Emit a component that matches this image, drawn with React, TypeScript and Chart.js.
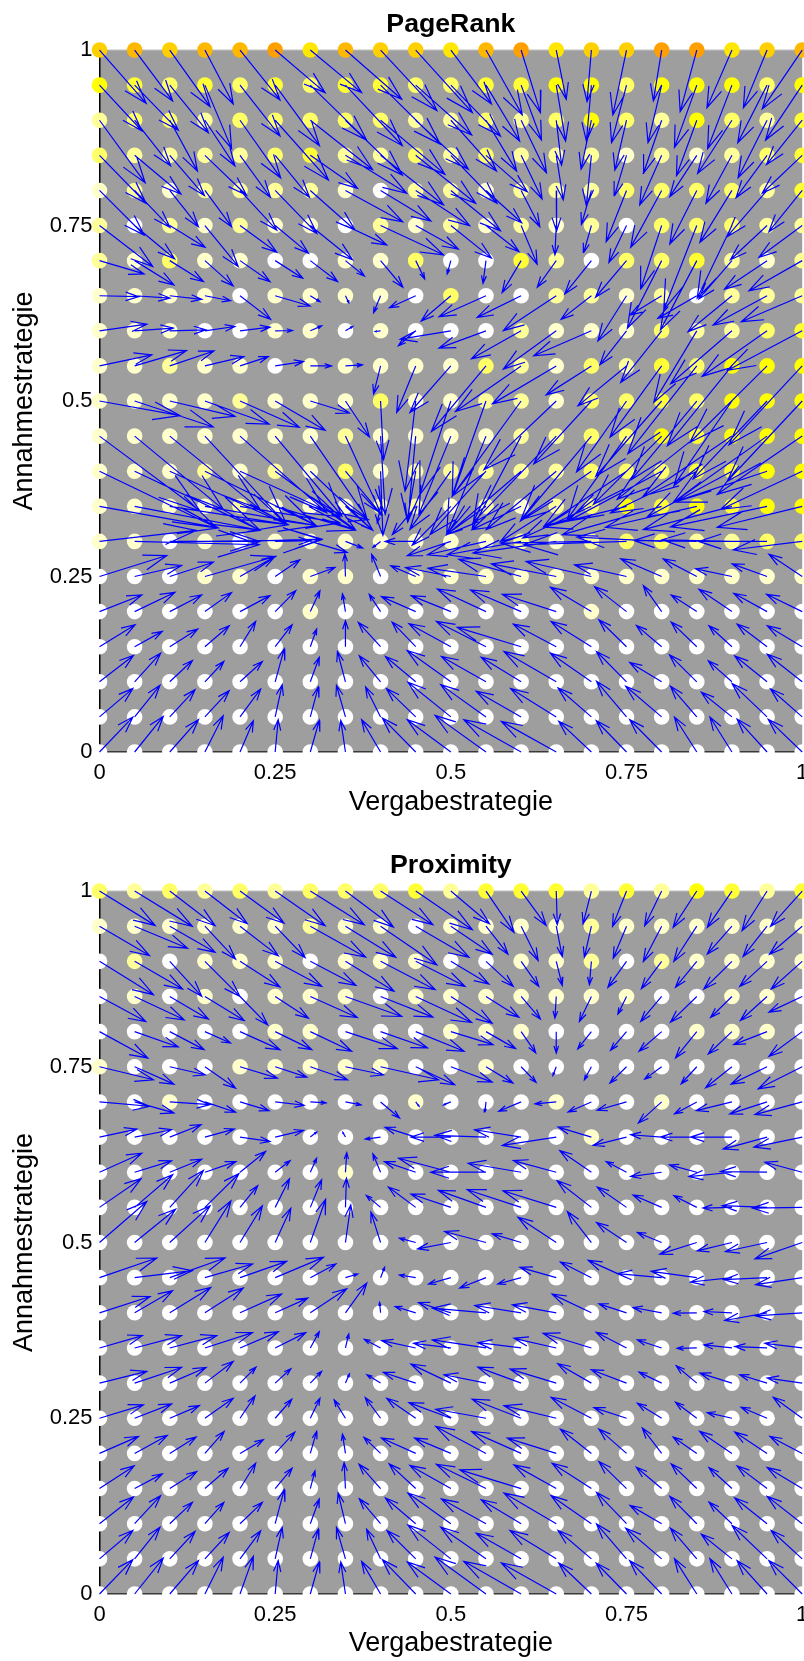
import React, { useEffect, useRef } from "react";
import { Chart, registerables } from "chart.js";

Chart.register(...registerables);

const gridValues = [0, 0.05, 0.1, 0.15, 0.2, 0.25, 0.3, 0.35, 0.4, 0.45, 0.5, 0.55, 0.6, 0.65, 0.7, 0.75, 0.8, 0.85, 0.9, 0.95, 1];
const tickValues = [0, 0.25, 0.5, 0.75, 1];
const xTitle = "Vergabestrategie";
const yTitle = "Annahmestrategie";
const QUIVER_UNIT = 1 / 2109;

// one row per Annahmestrategie value, from 1 down to 0; one column per Vergabestrategie value
const pageRankU = [
  [140,114,121,85,120,150,154,169,169,170,122,109,58,30,-13,-41,-25,-50,-75,-71,-120],
  [127,131,116,80,120,133,169,171,179,168,149,101,61,28,-15,-45,-41,-67,-73,-88,-110],
  [137,108,83,90,122,160,187,171,193,158,137,92,76,16,-31,-35,-55,-61,-103,-87,-107],
  [140,139,104,125,91,103,142,184,189,180,139,124,63,21,-15,-36,-66,-81,-78,-93,-120],
  [134,106,86,80,110,125,134,172,151,162,149,107,56,1,-30,-61,-93,-81,-96,-120,-100],
  [160,120,106,100,110,100,127,124,189,128,122,99,48,-4,-23,-53,-63,-99,-104,-110,-130],
  [134,118,101,85,90,83,82,57,67,27,-11,-9,-57,-57,-80,-93,-103,-109,-99,-128,-160],
  [117,106,96,77,92,105,29,10,-21,-79,-89,-141,-132,-159,-91,-86,-95,-117,-132,-162,-183],
  [142,116,108,90,90,52,34,22,-16,-52,-152,-141,-149,-159,-173,-80,-123,-129,-184,-195,-225],
  [157,156,133,117,85,85,64,51,-21,-57,-123,-164,-197,-192,-136,-146,-155,-207,-194,-232,-220],
  [242,236,196,193,178,150,117,72,9,-32,-93,-101,-207,-217,-173,-150,-198,-196,-174,-222,-225],
  [302,266,271,245,260,200,169,110,14,-24,-96,-118,-147,-250,-213,-178,-205,-239,-266,-282,-255],
  [352,376,351,333,300,240,187,104,7,-25,-123,-168,-222,-210,-210,-248,-281,-259,-254,-280,-245],
  [357,376,356,335,300,240,174,82,-10,-70,-116,-118,-147,-167,-206,-248,-298,-274,-266,-290,-255],
  [290,374,270,350,245,105,111,52,-23,-92,-131,-176,-222,-250,-273,-308,-255,-189,-209,-205,-207],
  [202,141,131,212,105,74,74,-2,-27,-75,-136,-174,-187,-195,-196,-156,-123,-101,-109,-105,-100],
  [127,121,96,80,90,62,29,-9,-34,-103,-119,-146,-152,-162,-123,-96,-55,-77,-99,-100,-107],
  [107,83,84,73,47,51,19,0,-67,-71,-126,-149,-192,-129,-121,-83,-76,-77,-69,-90,-105],
  [102,78,68,57,67,27,27,-24,-64,-91,-131,-134,-120,-157,-123,-90,-96,-82,-71,-97,-105],
  [100,76,76,73,62,21,24,-27,-45,-88,-129,-136,-135,-137,-100,-90,-108,-79,-92,-105,-95],
  [100,86,86,55,40,9,27,-14,-57,-100,-131,-153,-172,-165,-98,-91,-96,-67,-66,-90,-102],
];
const pageRankDrop = [
  [160,153,170,162,150,128,128,148,182,188,162,195,188,148,155,195,153,185,173,173,177],
  [137,135,143,190,153,182,165,182,177,150,153,168,165,168,168,173,173,187,191,173,165],
  [188,137,153,137,173,180,148,165,162,147,153,153,158,135,147,150,160,167,160,173,133],
  [144,116,121,120,126,126,99,114,149,144,144,109,131,134,152,121,149,124,144,127,114],
  [134,111,109,109,119,129,119,94,92,106,121,97,109,122,102,154,171,161,156,139,124],
  [123,100,65,123,80,83,103,58,88,71,98,78,116,88,81,111,191,253,218,103,96],
  [40,73,63,76,63,53,63,46,80,55,40,68,96,80,100,110,203,208,115,86,91],
  [3,7,11,15,71,31,18,21,51,36,76,63,65,105,71,136,58,68,108,88,78],
  [-20,-8,-3,-13,-11,-1,-15,-13,2,45,25,52,84,115,75,102,155,215,159,137,119],
  [-33,-46,-45,-28,-28,-13,0,-3,84,140,140,197,137,114,87,120,214,264,240,230,237],
  [44,78,46,69,79,88,36,108,176,271,281,286,286,206,189,213,226,236,254,234,241],
  [225,220,220,265,230,240,245,240,235,258,235,295,280,260,255,250,205,190,180,200,175],
  [170,177,160,163,137,175,177,125,193,145,175,190,190,175,145,165,150,125,137,93,115],
  [65,72,55,58,50,72,40,72,50,85,117,85,70,105,95,62,85,63,70,62,63],
  [-33,10,0,-5,-7,-2,33,20,18,0,43,40,40,35,5,10,-13,-3,-5,0,25],
  [-63,-33,-43,-60,-60,-50,-27,-68,-67,-32,-27,-25,-52,-38,-45,-35,-53,-53,-23,-38,-67],
  [-50,-58,-50,-57,-48,-63,-63,-53,-52,-45,-48,-68,-65,-52,-73,-75,-78,-50,-67,-55,-52],
  [-66,-46,-53,-63,-76,-66,-53,-78,-73,-74,-69,-76,-58,-68,-76,-81,-64,-74,-63,-68,-63],
  [-79,-86,-64,-61,-61,-99,-74,-91,-78,-76,-94,-76,-74,-91,-86,-91,-58,-81,-63,-78,-83],
  [-85,-95,-82,-79,-84,-97,-90,-95,-90,-85,-104,-97,-77,-85,-87,-107,-92,-92,-74,-100,-84],
  [-105,-107,-97,-109,-94,-97,-95,-95,-97,-102,-97,-110,-97,-92,-92,-94,-97,-105,-105,-99,-98],
];
const pageRankShade = [
  [7,8,7,8,8,9,6,8,7,7,6,8,9,6,7,7,9,9,6,7,8],
  [5,4,3,4,3,4,3,4,4,3,3,4,4,5,5,3,5,5,5,3,5],
  [2,3,3,2,3,3,3,3,3,2,2,3,2,3,5,3,2,5,3,2,4],
  [3,2,2,2,2,3,4,2,2,3,2,3,2,2,2,1,2,1,2,3,4],
  [1,2,1,2,2,2,2,1,0,2,2,1,2,2,2,3,3,3,3,2,4],
  [2,0,2,1,2,1,1,0,2,1,2,1,2,1,2,0,3,3,3,2,2],
  [2,1,3,1,1,0,0,1,1,3,0,0,4,2,0,3,3,4,2,1,2],
  [1,1,1,1,0,1,1,1,1,0,3,0,0,2,2,1,2,0,2,2,2],
  [1,1,1,0,0,1,1,0,1,0,0,0,2,1,1,1,3,2,2,3,4],
  [1,1,2,1,1,0,1,1,1,1,1,3,2,1,3,2,4,3,5,5,5],
  [1,1,1,1,2,1,1,1,3,1,1,2,2,1,3,3,4,3,5,5,5],
  [1,1,1,1,1,1,1,2,1,1,1,1,2,2,3,3,5,4,5,5,5],
  [1,1,1,2,1,2,1,3,1,2,2,2,2,2,3,3,3,4,4,5,5],
  [1,1,1,1,2,1,1,1,2,2,1,2,1,2,3,5,4,5,4,5,5],
  [1,1,0,1,0,1,1,1,1,1,1,1,2,1,2,3,3,2,2,3,3],
  [0,0,0,1,1,0,1,1,0,1,1,1,1,1,1,1,1,1,1,1,1],
  [0,0,0,0,0,0,1,0,0,0,0,0,0,0,1,0,0,0,0,0,0],
  [0,0,0,0,0,0,0,0,0,0,0,0,0,0,0,0,0,0,0,0,0],
  [0,0,0,0,0,0,0,0,0,0,0,0,0,0,0,0,0,0,0,0,0],
  [0,0,0,0,0,0,0,0,0,0,0,0,0,0,0,0,0,0,0,0,0],
  [0,0,0,0,0,0,0,0,0,0,0,0,0,0,0,0,0,0,0,0,0],
];

const proximityU = [
  [167,173,136,127,132,150,162,144,157,170,116,84,75,3,-25,-42,-51,-71,-74,-75,-95],
  [150,159,136,92,115,90,166,151,169,160,124,66,51,18,-21,-40,-55,-69,-74,-72,-98],
  [162,144,96,105,120,140,137,146,164,148,114,82,53,18,-6,-56,-61,-64,-84,-82,-93],
  [139,149,116,118,83,100,141,169,157,168,124,99,58,-4,-36,-26,-63,-79,-64,-80,-100],
  [145,131,103,77,120,110,124,156,141,145,127,89,44,0,-41,-48,-68,-64,-71,-100,-100],
  [162,118,106,92,112,95,112,114,174,117,124,81,45,-10,-21,-50,-51,-47,-79,-108,-132],
  [150,118,121,92,87,87,47,47,57,10,-22,-3,-67,-64,-70,-88,-70,-67,-107,-112,-142],
  [112,111,94,88,90,85,19,-8,-46,-92,-120,-154,-140,-162,-100,-100,-93,-109,-124,-132,-145],
  [127,111,96,93,77,45,19,4,-23,-94,-157,-166,-159,-129,-95,-61,-93,-82,-129,-140,-112],
  [125,114,101,102,53,43,34,3,-43,-82,-120,-143,-162,-160,-103,-88,-86,-69,-87,-135,-150],
  [142,123,121,78,67,47,46,16,-29,-49,-100,-124,-87,-115,-72,-90,-73,-111,-104,-125,-142],
  [172,173,166,143,140,145,77,37,12,-49,-67,-79,-70,-109,-93,-115,-133,-137,-124,-130,-140],
  [152,114,123,115,125,98,109,64,-3,-62,-97,-161,-139,-132,-118,-83,-86,-71,-84,-127,-140],
  [129,141,141,143,115,92,27,10,-49,-102,-112,-161,-130,-127,-145,-91,-73,-59,-84,-97,-112],
  [142,141,109,85,48,47,34,12,-41,-97,-120,-126,-130,-139,-101,-106,-68,-62,-96,-82,-105],
  [132,111,89,85,45,50,29,-34,-46,-87,-126,-151,-147,-157,-121,-98,-73,-64,-74,-78,-87],
  [117,98,79,58,70,59,19,-9,-50,-103,-109,-151,-149,-147,-93,-83,-58,-71,-97,-97,-97],
  [104,83,81,70,47,51,14,-4,-65,-80,-123,-149,-184,-127,-118,-83,-76,-77,-69,-90,-105],
  [102,78,68,57,67,27,27,-22,-64,-91,-129,-134,-120,-157,-121,-90,-95,-81,-69,-97,-105],
  [100,76,76,73,62,21,24,-27,-42,-86,-129,-136,-135,-139,-100,-90,-108,-79,-92,-105,-93],
  [100,86,86,55,40,9,27,-14,-57,-100,-131,-153,-172,-165,-98,-91,-96,-67,-66,-90,-100],
];
const proximityDrop = [
  [103,106,104,98,96,104,101,108,101,116,98,124,103,101,98,106,104,109,109,119,106],
  [88,66,78,99,89,94,93,93,116,93,84,84,103,91,93,96,106,106,84,91,84],
  [100,83,105,105,77,75,72,90,85,75,68,75,75,72,70,78,82,78,83,75,83],
  [75,70,68,72,85,65,63,60,62,78,80,62,68,65,75,53,75,77,63,72,47],
  [79,46,54,34,54,54,59,51,49,59,39,51,64,64,52,56,59,79,67,39,74],
  [39,52,24,64,34,31,39,24,39,54,46,49,47,26,39,49,37,51,63,52,66],
  [13,33,8,31,26,10,3,9,48,13,9,30,28,6,30,25,63,36,26,36,38],
  [-24,-22,-37,-24,13,-20,-15,-14,6,-29,0,-5,-22,25,-30,25,-7,0,0,36,30],
  [-57,-34,-39,-32,-62,-35,-42,-59,-55,-32,-42,0,-27,-35,-65,-32,13,-22,13,-2,-30],
  [-86,-98,-111,-101,-65,-86,-83,-88,-36,-61,-40,-51,-53,-50,-80,-61,-37,-35,2,-5,2],
  [-123,-100,-110,-125,-110,-103,-130,-113,-91,-13,19,-33,-26,-76,-93,-60,-30,35,25,27,49],
  [-59,-21,-59,-41,-49,-61,-41,-11,-31,-8,19,31,19,-31,-47,-52,-12,-19,13,6,21],
  [-49,-66,-76,-74,-56,-44,-72,-89,-31,-19,-31,-14,-22,-24,-56,-27,-16,1,-4,23,9],
  [-37,-37,-37,-46,-49,-46,-49,-42,-26,-22,-14,-24,-16,-29,-44,-47,-24,1,-9,-4,-14],
  [-35,-47,-47,-65,-48,-43,-35,-27,-25,-32,-57,-25,-48,-42,-58,-40,-33,-52,-30,-25,-15],
  [-40,-43,-38,-60,-67,-57,-60,-55,-62,-60,-47,-27,-57,-38,-63,-32,-45,-48,-17,-33,-63],
  [-51,-54,-49,-66,-41,-64,-66,-58,-48,-46,-46,-81,-66,-46,-73,-73,-76,-49,-66,-64,-51],
  [-68,-44,-51,-61,-76,-61,-53,-78,-73,-74,-69,-73,-56,-71,-76,-81,-64,-74,-63,-68,-63],
  [-80,-84,-64,-64,-64,-102,-74,-92,-75,-77,-92,-74,-72,-92,-84,-94,-55,-82,-65,-77,-82],
  [-85,-95,-82,-79,-84,-95,-89,-94,-89,-85,-102,-95,-77,-85,-85,-105,-92,-92,-74,-100,-85],
  [-103,-108,-100,-110,-113,-100,-96,-96,-98,-103,-96,-111,-98,-93,-93,-93,-100,-106,-106,-100,-100],
];
const proximityShade = [
  [3,2,3,2,3,2,3,3,3,4,2,4,4,4,2,4,2,5,4,2,4],
  [1,1,1,1,1,1,2,1,1,0,1,1,1,1,2,1,1,1,1,1,1],
  [0,2,0,1,1,1,0,1,1,1,0,0,1,1,2,0,2,1,1,1,1],
  [0,1,0,1,0,1,1,1,0,1,1,1,1,1,1,1,0,0,1,1,0],
  [0,0,0,0,0,1,1,0,0,0,1,1,1,0,0,0,0,1,1,1,0],
  [1,0,0,0,1,1,1,1,1,0,0,1,0,0,0,0,0,0,0,0,0],
  [0,0,1,0,0,0,0,0,0,1,0,0,0,1,0,0,1,0,0,0,0],
  [0,0,0,0,0,0,0,0,0,0,0,0,0,0,1,0,0,0,0,0,0],
  [0,0,0,0,0,0,0,1,0,0,0,0,0,0,0,0,0,0,0,0,0],
  [0,0,0,0,0,0,0,0,0,0,0,0,0,0,0,0,0,0,0,0,0],
  [0,0,0,0,0,0,0,0,0,0,0,0,0,0,0,0,0,0,0,0,0],
  [0,0,0,0,0,0,0,0,0,0,0,0,0,0,0,0,0,0,0,0,0],
  [0,0,0,0,0,0,0,0,0,0,0,0,0,0,0,0,0,0,0,0,0],
  [0,0,0,0,0,0,0,0,0,0,0,0,0,0,0,0,0,0,0,0,0],
  [0,0,0,0,0,0,0,0,0,0,0,0,0,0,0,0,0,0,0,0,0],
  [0,0,0,0,0,0,0,0,0,0,0,0,0,0,0,0,0,0,0,0,0],
  [0,0,0,0,0,0,0,0,0,0,0,0,0,0,0,0,0,0,0,0,0],
  [0,0,0,0,0,0,0,0,0,0,0,0,0,0,0,0,0,0,0,0,0],
  [0,0,0,0,0,0,0,0,0,0,0,0,0,0,0,0,0,0,0,0,0],
  [0,0,0,0,0,0,0,0,0,0,0,0,0,0,0,0,0,0,0,0,0],
  [0,0,0,0,0,0,0,0,0,0,0,0,0,0,0,0,0,0,0,0,0],
];

function shadeColor(level: number) {
  if (level <= 5) return `rgb(255,255,${Math.round(255 * (1 - level / 5))})`;
  return `rgb(255,${Math.round(255 - ((level - 5) / 4) * 95)},0)`;
}

function arrowPath(U: number[][], D: number[][]) {
  const pts: { x: number; y: number }[] = [];
  const a = 0.33;
  const b = 0.33;
  U.forEach((row, r) =>
    row.forEach((uRaw, c) => {
      const x = gridValues[c];
      const y = gridValues[20 - r];
      const u = uRaw * QUIVER_UNIT;
      const v = -D[r][c] * QUIVER_UNIT;
      const tx = x + u;
      const ty = y + v;
      pts.push({ x, y }, { x: tx, y: ty }, { x: NaN, y: NaN });
      pts.push({ x: tx - a * (u + b * v), y: ty - a * (v - b * u) }, { x: tx, y: ty });
      pts.push({ x: tx - a * (u - b * v), y: ty - a * (v + b * u) }, { x: NaN, y: NaN });
    })
  );
  return pts;
}

function dots(shade: number[][]) {
  const pts: { x: number; y: number }[] = [];
  const colors: string[] = [];
  shade.forEach((row, r) =>
    row.forEach((level, c) => {
      pts.push({ x: gridValues[c], y: gridValues[20 - r] });
      colors.push(shadeColor(level));
    })
  );
  return { pts, colors };
}

const FONT = "'Liberation Sans', Arial, sans-serif";

const plotBackground = {
  id: "plotBackground",
  beforeDraw(chart: any) {
    const { ctx, chartArea: a } = chart;
    ctx.save();
    ctx.fillStyle = "#9E9E9E";
    ctx.fillRect(a.left, a.top, a.right - a.left, a.bottom - a.top);
    ctx.fillStyle = "#BDBDBD";
    ctx.fillRect(a.left, a.top - 0.5, a.right - a.left, 1);
    ctx.restore();
  },
};

function Panel({ title, U, D, shade, top, xHeight }: any) {
  const ref = useRef<HTMLCanvasElement>(null);
  useEffect(() => {
    const d = dots(shade);
    const sharedTicks = {
      font: { family: FONT, size: 22 },
      color: "#000",
      autoSkip: false,
      maxRotation: 0,
      callback: (v: number) => String(v),
    };
    const dropPadding = (s: any) => {
      s.paddingLeft = 0;
      s.paddingRight = 0;
      s.paddingTop = 0;
      s.paddingBottom = 0;
    };
    const chart = new Chart(ref.current!, {
      type: "scatter",
      data: {
        datasets: [
          {
            type: "scatter",
            data: arrowPath(U, D),
            showLine: true,
            spanGaps: false,
            borderColor: "#0000FF",
            borderWidth: 1.2,
            pointRadius: 0,
            pointHoverRadius: 0,
            clip: false,
            order: 0,
          },
          {
            type: "scatter",
            data: d.pts,
            pointRadius: 7.8,
            pointBackgroundColor: d.colors,
            pointBorderWidth: 0,
            showLine: false,
            clip: false,
            order: 1,
          },
        ],
      } as any,
      options: {
        responsive: false,
        animation: false,
        events: [],
        layout: { padding: { right: 1.5 } },
        plugins: {
          legend: { display: false },
          tooltip: { enabled: false },
          title: {
            display: true,
            text: title,
            fullSize: false,
            color: "#000",
            font: { family: FONT, size: 26.7, weight: "bold", lineHeight: 1.2 },
            padding: { top: 8.5, bottom: 9.5 },
          },
        },
        scales: {
          x: {
            type: "linear",
            min: 0,
            max: 1,
            afterBuildTicks: (s: any) => {
              s.ticks = tickValues.map((value) => ({ value }));
            },
            afterFit: (s: any) => {
              s.height = xHeight;
              dropPadding(s);
            },
            grid: { display: false, drawTicks: false },
            border: { display: true, color: "#3A3A3A", width: 1.5 },
            ticks: { ...sharedTicks, padding: 8 },
            title: {
              display: true,
              text: xTitle,
              color: "#000",
              font: { family: FONT, size: 27 },
              padding: { top: 0, bottom: 1 },
            },
          },
          y: {
            type: "linear",
            min: 0,
            max: 1,
            afterBuildTicks: (s: any) => {
              s.ticks = tickValues.map((value) => ({ value }));
            },
            afterFit: (s: any) => {
              s.width = 99.5;
              dropPadding(s);
            },
            grid: { display: false, drawTicks: false },
            border: { display: true, color: "#000", width: 1.5 },
            ticks: { ...sharedTicks, padding: 7 },
            title: {
              display: true,
              text: yTitle,
              color: "#000",
              font: { family: FONT, size: 27 },
              padding: { top: 8, bottom: 0 },
            },
          },
        },
      } as any,
      plugins: [plotBackground],
    });
    return () => chart.destroy();
  }, []);
  return (
    <canvas
      ref={ref}
      width={810}
      height={820}
      style={{ position: "absolute", left: 0, top, display: "block" }}
    />
  );
}

export default function App() {
  return (
    <div style={{ position: "absolute", left: 0, top: 0, width: 804, height: 1661, overflow: "hidden", background: "#fff" }}>
      <Panel title="PageRank" U={pageRankU} D={pageRankDrop} shade={pageRankShade} top={0} xHeight={68} />
      <Panel title="Proximity" U={proximityU} D={proximityDrop} shade={proximityShade} top={841} xHeight={67} />
    </div>
  );
}
